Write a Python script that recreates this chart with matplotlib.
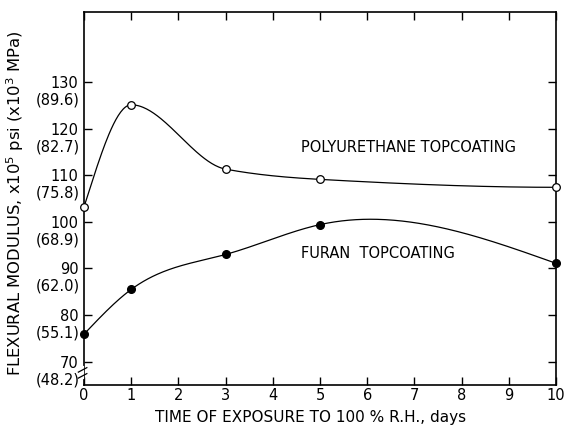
import numpy as np
import matplotlib
matplotlib.use("Agg")
import matplotlib.pyplot as plt
import matplotlib.transforms as mtrans

# ---- data ----
days = [0, 1, 3, 5, 10]
polyurethane = [103.2, 125.1, 111.3, 109.1, 107.4]
furan = [75.9, 85.5, 93.0, 99.4, 91.1]

psi_ticks = [70, 80, 90, 100, 110, 120, 130]
mpa_labels = ["(48.2)", "(55.1)", "(62.0)", "(68.9)", "(75.8)", "(82.7)", "(89.6)"]
x_ticks = list(range(0, 11))


def pchip(x, y, xs):
    x = np.asarray(x, float); y = np.asarray(y, float)
    h = np.diff(x); dl = np.diff(y) / h
    n = len(x); d = np.zeros(n)
    for i in range(1, n - 1):
        if dl[i - 1] * dl[i] > 0:
            w1 = 2 * h[i] + h[i - 1]; w2 = h[i] + 2 * h[i - 1]
            d[i] = (w1 + w2) / (w1 / dl[i - 1] + w2 / dl[i])
    def end(h0, h1, d0, d1):
        v = ((2 * h0 + h1) * d0 - h0 * d1) / (h0 + h1)
        if np.sign(v) != np.sign(d0):
            v = 0.0
        elif np.sign(d0) != np.sign(d1) and abs(v) > abs(3 * d0):
            v = 3 * d0
        return v
    d[0] = end(h[0], h[1], dl[0], dl[1])
    d[-1] = end(h[-1], h[-2], dl[-1], dl[-2])
    i = np.clip(np.searchsorted(x, xs) - 1, 0, n - 2)
    t = (xs - x[i]) / h[i]
    h00 = 2 * t**3 - 3 * t**2 + 1; h10 = t**3 - 2 * t**2 + t
    h01 = -2 * t**3 + 3 * t**2; h11 = t**3 - t**2
    return h00 * y[i] + h10 * h[i] * d[i] + h01 * y[i + 1] + h11 * h[i] * d[i + 1]


def natural(x, y, xs):
    x = np.asarray(x, float); y = np.asarray(y, float)
    n = len(x); h = np.diff(x)
    A = np.zeros((n, n)); r = np.zeros(n)
    A[0, 0] = A[-1, -1] = 1
    for i in range(1, n - 1):
        A[i, i - 1] = h[i - 1]; A[i, i] = 2 * (h[i - 1] + h[i]); A[i, i + 1] = h[i]
        r[i] = 3 * ((y[i + 1] - y[i]) / h[i] - (y[i] - y[i - 1]) / h[i - 1])
    c = np.linalg.solve(A, r)
    b = np.diff(y) / h - h * (2 * c[:-1] + c[1:]) / 3
    dd = np.diff(c) / (3 * h)
    i = np.clip(np.searchsorted(x, xs) - 1, 0, n - 2)
    dx = xs - x[i]
    return y[i] + b[i] * dx + c[i] * dx**2 + dd[i] * dx**3


plt.rcParams["font.family"] = "DejaVu Sans"
fig = plt.figure(figsize=(5.65, 4.25), dpi=100)
ax = fig.add_axes([84 / 565, 1 - 385 / 425, 472 / 565, 373 / 425])

xs = np.linspace(0, 10, 400)
ax.plot(xs, pchip(days, polyurethane, xs), color="black", lw=0.9, zorder=2)
ax.plot(xs, natural(days, furan, xs), color="black", lw=0.9, zorder=2)
ax.plot(days, polyurethane, "o", ms=5.5, mfc="white", mec="black", mew=0.9,
        zorder=3, clip_on=False)
ax.plot(days, furan, "o", ms=5.5, mfc="black", mec="black", zorder=3, clip_on=False)

ax.set_xlim(0, 10)
ax.set_ylim(65, 145)
ax.set_xticks(x_ticks)
ax.set_yticks(psi_ticks)
ax.tick_params(direction="in", length=6, width=1.0, labelsize=10.5,
               top=True, right=True, pad=4)
ax.tick_params(axis="x", pad=2)
for s in ax.spines.values():
    s.set_linewidth(1.2)

# MPa values beneath each psi label
tr = mtrans.blended_transform_factory(ax.transAxes, ax.transData)
for v, lab in zip(psi_ticks, mpa_labels):
    ax.annotate(lab, xy=(0, v), xycoords=tr, xytext=(-3, -13),
                textcoords="offset points", ha="right", va="center",
                fontsize=10.5, annotation_clip=False)

# axis break marks on left spine
yb = (67.6 - 65) / 80
ax.plot([-0.004, -0.004], [yb - 0.012, yb + 0.012], color="white", lw=3,
        transform=ax.transAxes, clip_on=False, zorder=5)
for dy in (-0.008, 0.008):
    ax.plot([-0.012, 0.006], [yb + dy - 0.006, yb + dy + 0.006], color="black",
            lw=0.9, transform=ax.transAxes, clip_on=False, zorder=6)

ax.text(4.6, 115.9, "POLYURETHANE TOPCOATING", fontsize=10.5, va="center", ha="left")
ax.text(4.6, 93.2, "FURAN  TOPCOATING", fontsize=10.5, va="center", ha="left")

fig.text(0.549, 0.018, "TIME OF EXPOSURE TO 100 % R.H., days", ha="center",
         va="center", fontsize=11)
fig.text(0.027, 0.522, "FLEXURAL MODULUS, x10$^5$ psi (x10$^3$ MPa)", rotation=90,
         ha="center", va="center", fontsize=11.8)

fig.savefig("out.png", dpi=100, facecolor="white")
